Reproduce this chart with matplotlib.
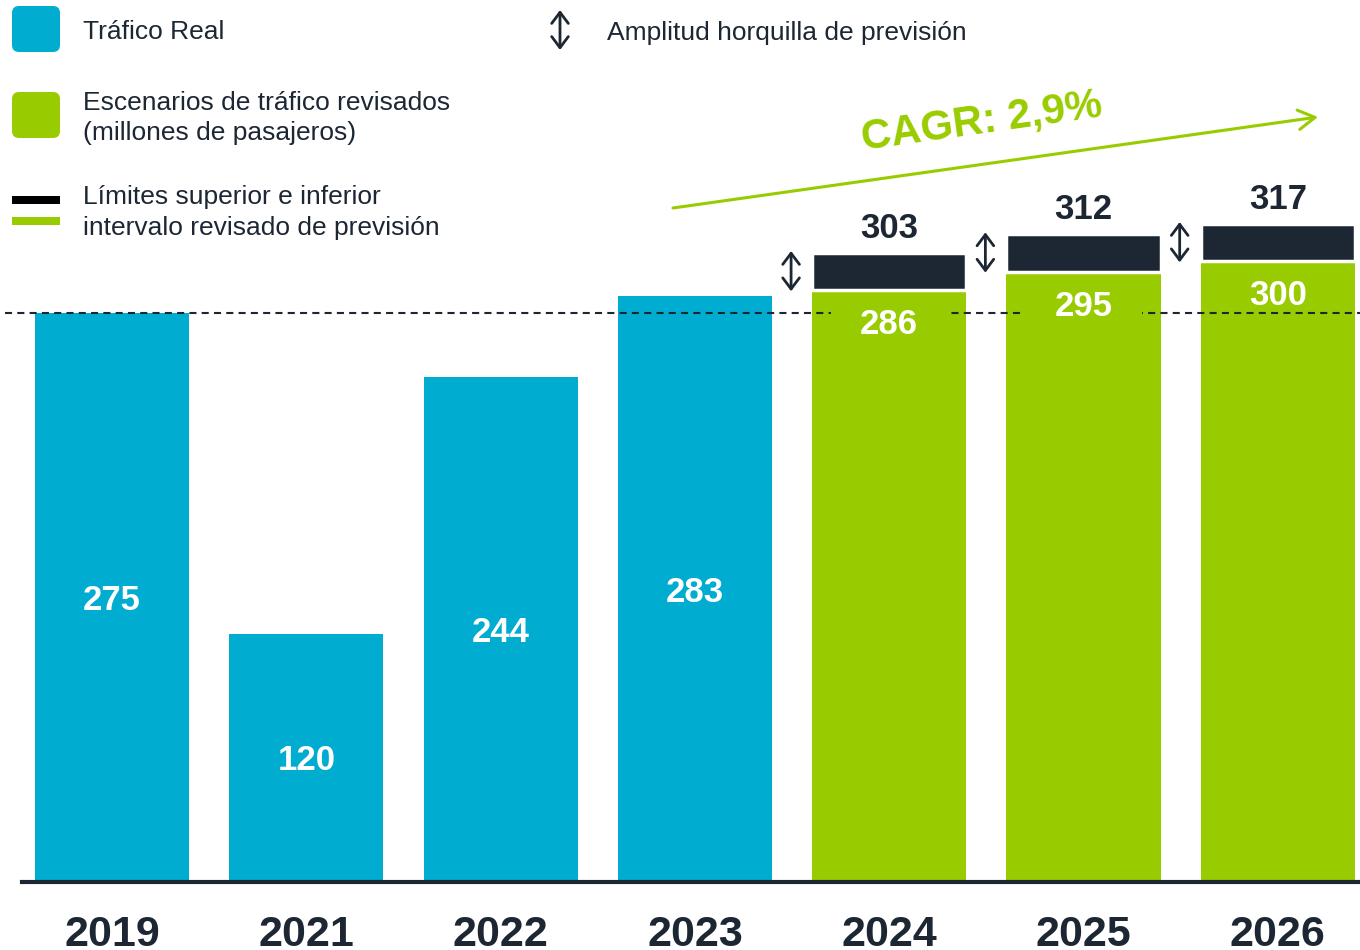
import matplotlib.pyplot as plt
from matplotlib.patches import FancyBboxPatch, Rectangle
from matplotlib.transforms import IdentityTransform

# data
years = ['2019', '2021', '2022', '2023', '2024', '2025', '2026']
real = [275, 120, 244, 283]          # trafico real
fc_low = [286, 295, 300]             # limite inferior prevision
fc_high = [303, 312, 317]            # limite superior prevision
ref_2019 = 275
cagr_label = 'CAGR: 2,9%'

BLUE = '#00acd0'
GREEN = '#99cc00'
DARK = '#1d2734'

plt.rcParams['font.family'] = ['Liberation Sans', 'DejaVu Sans']

fig = plt.figure(figsize=(13.6, 9.5), dpi=100)
ax = fig.add_axes([0, 0, 1, 1])
ax.axis('off')

# pixel <-> data helpers (layout only)
step, x0, base, k = 194.3, 112, 882, 2.069
def xd(p): return (p - x0) / step
def yd(p): return (base - p) / k
ax.set_xlim(xd(0), xd(1360))
ax.set_ylim(yd(950), yd(0))

n_real = len(real)
xr = list(range(n_real))
xf = [n_real + i for i in range(len(fc_low))]
w = 0.793

ax.bar(xr, real, width=w, color=BLUE, zorder=2)
ax.bar(xf, fc_low, width=w, color=GREEN, zorder=2)
ax.bar(xf, [h - l + 1 for h, l in zip(fc_high, fc_low)], bottom=fc_low, width=w,
       color=DARK, edgecolor='white', linewidth=2.5, zorder=6)

# reference line 2019
ax.axhline(ref_2019, xmin=5 / 1360, color=DARK, lw=1.5, dashes=(3.4, 2.5), zorder=3)
# masks behind the forecast labels
ax.bar(xf, 14.5, bottom=[l - 15.3 - 7.25 for l in fc_low], width=0.6, color=GREEN, zorder=4)

# axis line
ax.axhline(0, xmin=22 / 1360, xmax=1, color=DARK, lw=3, zorder=5)

# value labels
for x, v in zip(xr, real):
    ax.text(x, v / 2 - 6, str(v), ha='center', va='baseline', color='white',
            fontsize=25, fontweight='bold', zorder=7)
for x, l, h in zip(xf, fc_low, fc_high):
    ax.text(x, l - 21.3, str(l), ha='center', va='baseline', color='white',
            fontsize=25, fontweight='bold', zorder=7)
    ax.text(x, h + 8.5, str(h), ha='center', va='baseline', color=DARK,
            fontsize=25, fontweight='bold', zorder=7)
    ax.annotate('', xy=(x - 0.505, h + 2), xytext=(x - 0.505, l - 0.5),
                arrowprops=dict(arrowstyle='<->,head_length=0.4,head_width=0.3',
                                color=DARK, lw=2, mutation_scale=20,
                                shrinkA=0, shrinkB=0), zorder=7)

for i, y in enumerate(years):
    ax.text(i, yd(946), y, ha='center', va='baseline', color=DARK,
            fontsize=31, fontweight='bold')

# CAGR arrow and label (pixel coords)
H = 950
px = IdentityTransform()
ax.annotate('', xy=(1318, H - 117), xytext=(673, H - 208), xycoords=px, textcoords=px,
            arrowprops=dict(arrowstyle='->,head_length=0.6,head_width=0.35',
                            color=GREEN, lw=2.2, mutation_scale=20,
                            shrinkA=0, shrinkB=0))
ax.text(982, H - 122, cagr_label, transform=px, rotation=8, rotation_mode='anchor',
        ha='center', va='center', color=GREEN, fontsize=30, fontweight='bold')

# legend
fig.add_artist(FancyBboxPatch((12, H - 52), 48, 46, boxstyle='round,pad=0,rounding_size=7',
                              transform=px, fc=BLUE, ec='none'))
fig.add_artist(FancyBboxPatch((12, H - 138), 48, 46, boxstyle='round,pad=0,rounding_size=7',
                              transform=px, fc=GREEN, ec='none'))
fig.add_artist(Rectangle((12, H - 204), 48, 8, transform=px, fc='black', ec='none'))
fig.add_artist(Rectangle((12, H - 225), 48, 8, transform=px, fc=GREEN, ec='none'))

leg_kw = dict(transform=px, fontsize=19, color=DARK, va='baseline', ha='left')
fig.text(83, H - 39, 'Tráfico Real', **leg_kw)
fig.text(83, H - 110, 'Escenarios de tráfico revisados', **leg_kw)
fig.text(83, H - 140, '(millones de pasajeros)', **leg_kw)
fig.text(83, H - 204, 'Límites superior e inferior', **leg_kw)
fig.text(83, H - 235, 'intervalo revisado de previsión', **leg_kw)
fig.text(607, H - 40, 'Amplitud horquilla de previsión', **leg_kw)
ax.annotate('', xy=(560, H - 10), xytext=(560, H - 50), xycoords=px, textcoords=px,
            arrowprops=dict(arrowstyle='<->,head_length=0.4,head_width=0.3',
                            color=DARK, lw=2, mutation_scale=20,
                            shrinkA=0, shrinkB=0))

fig.savefig('out.png', dpi=100)
